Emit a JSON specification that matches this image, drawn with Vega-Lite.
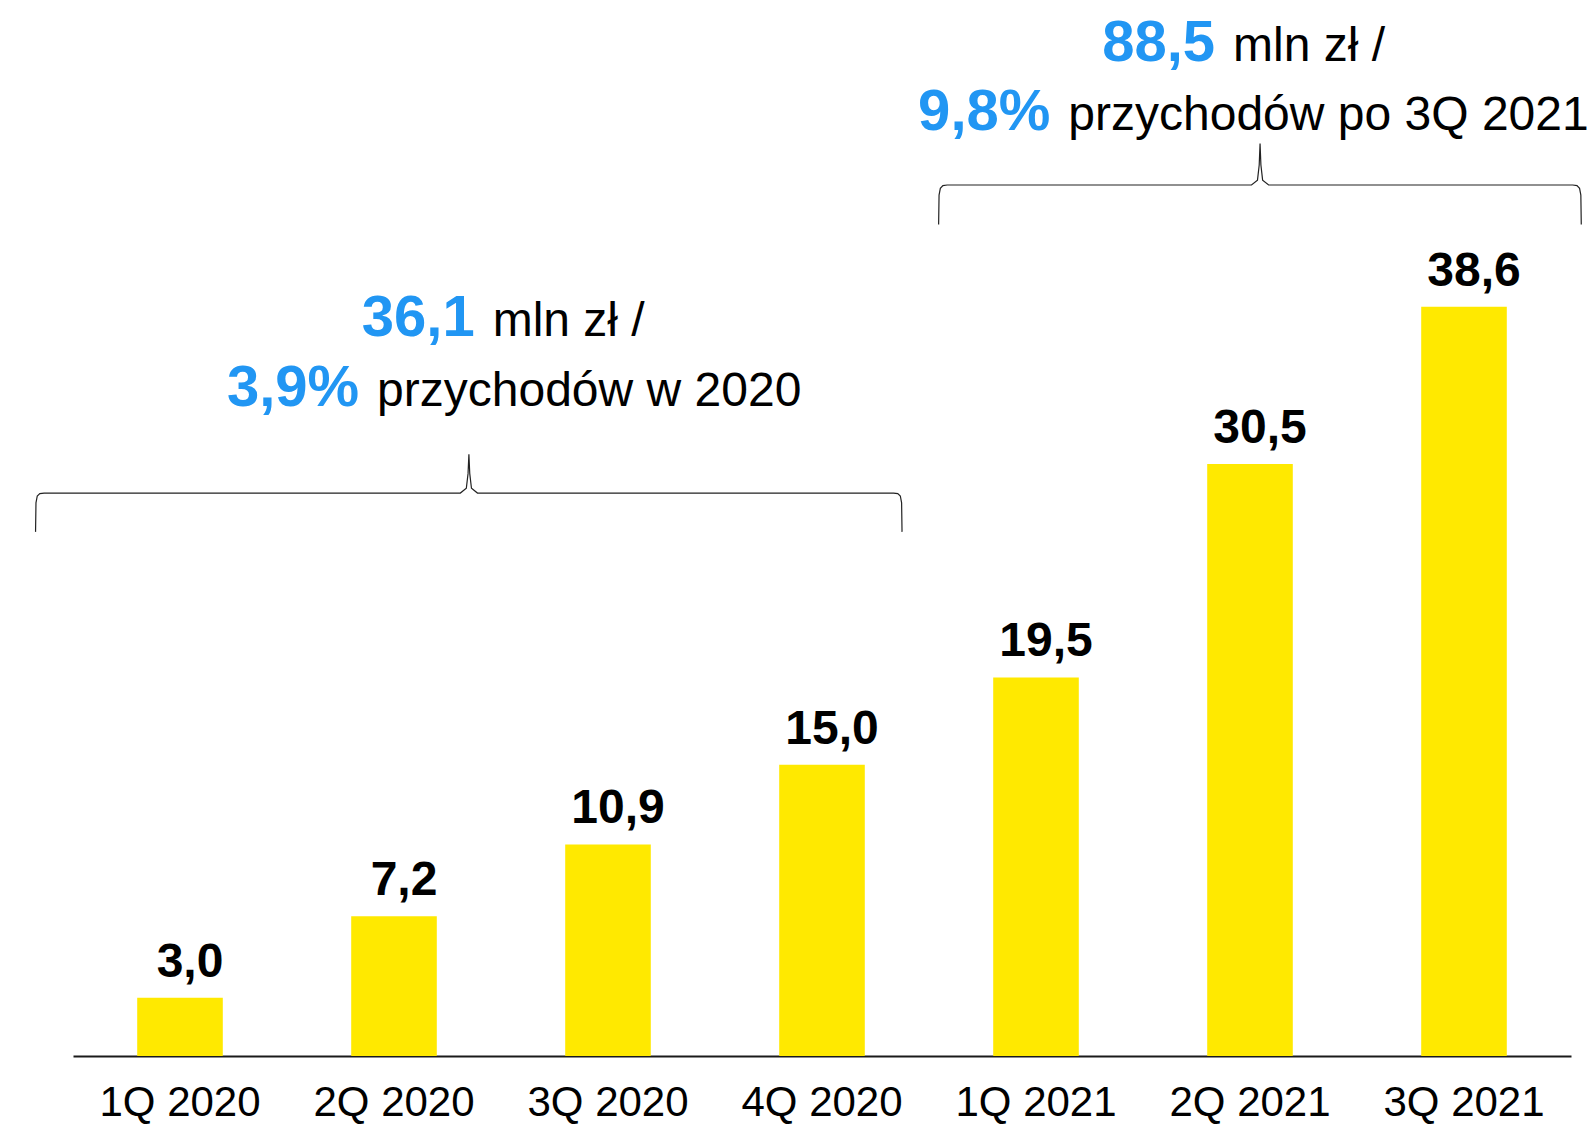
{
  "$schema": "https://vega.github.io/schema/vega-lite/v6.json",
  "width": 1498,
  "height": 1056,
  "autosize": {"type": "none"},
  "padding": {"left": 73, "top": 0, "right": 20, "bottom": 68},
  "background": "white",
  "config": {"view": {"stroke": null}, "font": "Liberation Sans"},
  "datasets": {
    "bars": [
      {"quarter": "1Q 2020", "value": 3.0, "label": "3,0"},
      {"quarter": "2Q 2020", "value": 7.2, "label": "7,2"},
      {"quarter": "3Q 2020", "value": 10.9, "label": "10,9"},
      {"quarter": "4Q 2020", "value": 15.0, "label": "15,0"},
      {"quarter": "1Q 2021", "value": 19.5, "label": "19,5"},
      {"quarter": "2Q 2021", "value": 30.5, "label": "30,5"},
      {"quarter": "3Q 2021", "value": 38.6, "label": "38,6"}
    ],
    "notes": [
      {"x": 4.879, "y": 51.26, "t": "88,5", "k": "hi"},
      {"x": 4.879, "y": 51.26, "t": "mln zł /", "k": "lo"},
      {"x": 4.109, "y": 47.71, "t": "9,8%", "k": "hi"},
      {"x": 4.109, "y": 47.71, "t": "przychodów po 3Q 2021", "k": "lo"},
      {"x": 1.419, "y": 37.08, "t": "36,1", "k": "hi"},
      {"x": 1.419, "y": 37.08, "t": "mln zł /", "k": "lo"},
      {"x": 0.879, "y": 33.49, "t": "3,9%", "k": "hi"},
      {"x": 0.879, "y": 33.49, "t": "przychodów w 2020", "k": "lo"}
    ],
    "braces": [
      {"b": "A", "o": 1, "x": -0.675, "y": 27.0},
      {"b": "A", "o": 2, "x": -0.673, "y": 28.5},
      {"b": "A", "o": 3, "x": -0.667, "y": 28.85},
      {"b": "A", "o": 4, "x": -0.655, "y": 28.97},
      {"b": "A", "o": 5, "x": -0.635, "y": 29.0},
      {"b": "A", "o": 6, "x": 1.31, "y": 29.0},
      {"b": "A", "o": 7, "x": 1.338, "y": 29.25},
      {"b": "A", "o": 8, "x": 1.346, "y": 30.0},
      {"b": "A", "o": 9, "x": 1.35, "y": 31.0},
      {"b": "A", "o": 10, "x": 1.354, "y": 30.0},
      {"b": "A", "o": 11, "x": 1.362, "y": 29.25},
      {"b": "A", "o": 12, "x": 1.39, "y": 29.0},
      {"b": "A", "o": 13, "x": 3.334, "y": 29.0},
      {"b": "A", "o": 14, "x": 3.354, "y": 28.97},
      {"b": "A", "o": 15, "x": 3.366, "y": 28.85},
      {"b": "A", "o": 16, "x": 3.372, "y": 28.5},
      {"b": "A", "o": 17, "x": 3.374, "y": 27.0},
      {"b": "B", "o": 1, "x": 3.545, "y": 42.83},
      {"b": "B", "o": 2, "x": 3.547, "y": 44.35},
      {"b": "B", "o": 3, "x": 3.553, "y": 44.7},
      {"b": "B", "o": 4, "x": 3.565, "y": 44.84},
      {"b": "B", "o": 5, "x": 3.585, "y": 44.87},
      {"b": "B", "o": 6, "x": 5.007, "y": 44.87},
      {"b": "B", "o": 7, "x": 5.035, "y": 45.12},
      {"b": "B", "o": 8, "x": 5.043, "y": 45.9},
      {"b": "B", "o": 9, "x": 5.047, "y": 47.01},
      {"b": "B", "o": 10, "x": 5.051, "y": 45.9},
      {"b": "B", "o": 11, "x": 5.059, "y": 45.12},
      {"b": "B", "o": 12, "x": 5.087, "y": 44.87},
      {"b": "B", "o": 13, "x": 6.508, "y": 44.87},
      {"b": "B", "o": 14, "x": 6.528, "y": 44.84},
      {"b": "B", "o": 15, "x": 6.540, "y": 44.7},
      {"b": "B", "o": 16, "x": 6.546, "y": 44.35},
      {"b": "B", "o": 17, "x": 6.548, "y": 42.83}
    ]
  },
  "layer": [
    {
      "data": {"name": "bars"},
      "encoding": {
        "x": {
          "field": "quarter",
          "type": "nominal",
          "sort": null,
          "scale": {"paddingInner": 0.6, "paddingOuter": 0.3},
          "axis": {
            "title": null,
            "labelAngle": 0,
            "ticks": false,
            "labelPadding": 26,
            "labelFontSize": 42,
            "labelFont": "Liberation Sans",
            "labelColor": "#000000",
            "domainColor": "#1a1a1a",
            "domainWidth": 2,
            "grid": false
          }
        },
        "y": {
          "field": "value",
          "type": "quantitative",
          "scale": {"domain": [0, 54.4], "nice": false, "zero": true},
          "axis": null
        }
      },
      "layer": [
        {"mark": {"type": "bar", "color": "#FFE900"}},
        {
          "mark": {
            "type": "text",
            "baseline": "alphabetic",
            "align": "center",
            "dy": -21,
            "dx": 10,
            "fontSize": 48,
            "fontWeight": "bold",
            "font": "Liberation Sans",
            "color": "#000000"
          },
          "encoding": {"text": {"field": "label", "type": "nominal"}}
        }
      ]
    },
    {
      "layer": [
        {
          "data": {"name": "braces"},
          "mark": {"type": "line", "color": "#222222", "strokeWidth": 1.2, "interpolate": "linear"},
          "encoding": {
            "x": {"field": "x", "type": "quantitative", "scale": {"domain": [-0.5, 6.5], "nice": false, "zero": false}, "axis": null},
            "y": {"field": "y", "type": "quantitative", "scale": {"domain": [0, 54.4], "nice": false, "zero": true}, "axis": null},
            "detail": {"field": "b", "type": "nominal"},
            "order": {"field": "o", "type": "quantitative"}
          }
        },
        {
          "data": {"name": "notes"},
          "transform": [{"filter": "datum.k === 'hi'"}],
          "mark": {
            "type": "text",
            "align": "right",
            "baseline": "alphabetic",
            "dx": -9,
            "fontSize": 58,
            "fontWeight": "bold",
            "font": "Liberation Sans",
            "color": "#2196F3"
          },
          "encoding": {
            "x": {"field": "x", "type": "quantitative", "scale": {"domain": [-0.5, 6.5], "nice": false, "zero": false}, "axis": null},
            "y": {"field": "y", "type": "quantitative", "scale": {"domain": [0, 54.4], "nice": false, "zero": true}, "axis": null},
            "text": {"field": "t", "type": "nominal"}
          }
        },
        {
          "data": {"name": "notes"},
          "transform": [{"filter": "datum.k === 'lo'"}],
          "mark": {
            "type": "text",
            "align": "left",
            "baseline": "alphabetic",
            "dx": 9,
            "fontSize": 48,
            "font": "Liberation Sans",
            "color": "#000000"
          },
          "encoding": {
            "x": {"field": "x", "type": "quantitative", "scale": {"domain": [-0.5, 6.5], "nice": false, "zero": false}, "axis": null},
            "y": {"field": "y", "type": "quantitative", "scale": {"domain": [0, 54.4], "nice": false, "zero": true}, "axis": null},
            "text": {"field": "t", "type": "nominal"}
          }
        }
      ]
    }
  ],
  "resolve": {"scale": {"x": "independent"}}
}
